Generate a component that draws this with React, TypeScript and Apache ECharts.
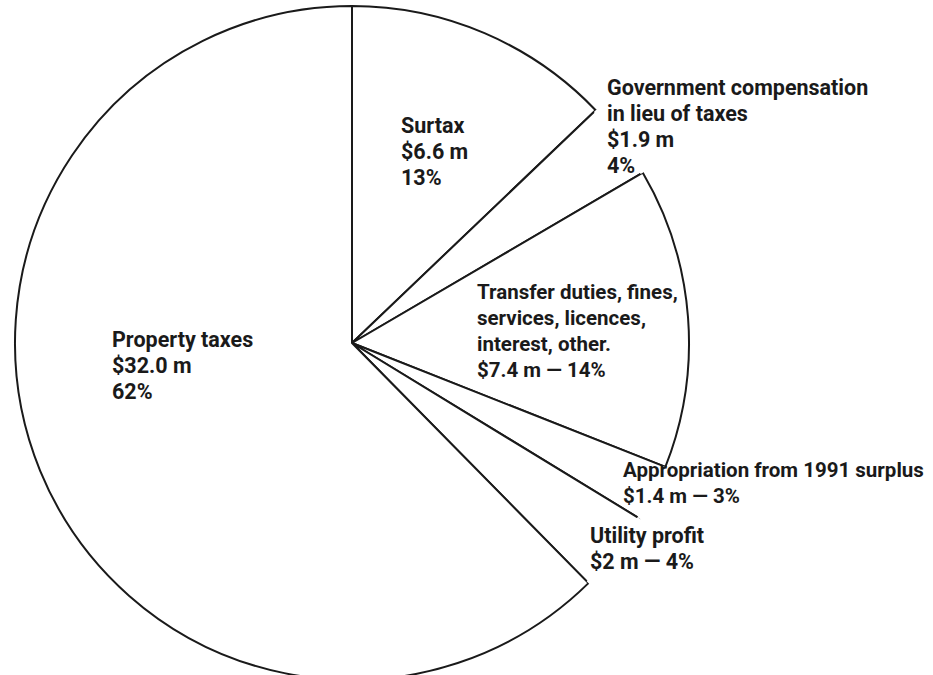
import React, { useEffect, useRef } from "react";
import * as echarts from "echarts";

// ---- data ----
const categories = [
  "Surtax",
  "Government compensation\nin lieu of taxes",
  "Transfer duties, fines,\nservices, licences,\ninterest, other.",
  "Appropriation from 1991 surplus",
  "Utility profit",
  "Property taxes",
];
const amounts = [6.6, 1.9, 7.4, 1.4, 2.0, 32.0];
const amountLabels = ["$6.6 m", "$1.9 m", "$7.4 m", "$1.4 m", "$2 m", "$32.0 m"];
const percentLabels = ["13%", "4%", "14%", "3%", "4%", "62%"];

// ---- layout / style ----
const CENTER = [352, 343];
const RADIUS = 337;
const INK = "#1a1a1a";
const FONT = 'Roboto, "Liberation Sans", sans-serif';
const LABEL_POS = [
  { x: 401, y: 112, inline: false, size: 21.5 },
  { x: 607, y: 74, inline: false, size: 21.5 },
  { x: 477, y: 279, inline: true, size: 20.5 },
  { x: 623, y: 457, inline: true, size: 20.5 },
  { x: 590, y: 522, inline: true, size: 21.5 },
  { x: 112, y: 326, inline: false, size: 21.5 },
];

const total = amounts.reduce((a, b) => a + b, 0);

function labelText(i: number): string {
  const p = LABEL_POS[i];
  return p.inline
    ? `${categories[i]}\n${amountLabels[i]} — ${percentLabels[i]}`
    : `${categories[i]}\n${amountLabels[i]}\n${percentLabels[i]}`;
}

export default function App() {
  const ref = useRef<HTMLDivElement>(null);
  useEffect(() => {
    if (!ref.current) return;
    const chart = echarts.init(ref.current, undefined, { renderer: "svg" });
    const small = (v: number) => v / total < 0.05;
    chart.setOption({
      animation: false,
      backgroundColor: "#ffffff",
      series: [
        {
          type: "pie",
          z: 1,
          center: CENTER,
          radius: [0, RADIUS],
          startAngle: 90,
          clockwise: true,
          silent: true,
          emphasis: { disabled: true },
          label: { show: false },
          labelLine: { show: false },
          itemStyle: { color: "#ffffff", borderColor: INK, borderWidth: 2 },
          data: amounts.map((v, i) => ({ name: categories[i], value: v })),
        },
        {
          type: "pie",
          z: 2,
          center: CENTER,
          radius: [RADIUS - 2.5, RADIUS + 3],
          startAngle: 90,
          clockwise: true,
          silent: true,
          emphasis: { disabled: true },
          avoidLabelOverlap: false,
          data: amounts.map((v, i) => ({
            name: categories[i],
            value: v,
            itemStyle: {
              color: small(v) ? "#ffffff" : "rgba(0,0,0,0)",
              borderWidth: 0,
            },
            label: { fontSize: LABEL_POS[i].size },
          })),
          label: {
            show: true,
            position: "outside",
            formatter: (p: any) => labelText(p.dataIndex),
            color: INK,
            fontFamily: FONT,
            fontWeight: "bold",
            fontSize: 21.5,
            lineHeight: 26,
            align: "left",
          },
          labelLine: { show: false },
          labelLayout: (p: any) => ({
            x: LABEL_POS[p.dataIndex].x,
            y: LABEL_POS[p.dataIndex].y,
            align: "left",
            verticalAlign: "top",
          }),
        },
      ],
    });
    return () => chart.dispose();
  }, []);
  return (
    <div
      ref={ref}
      style={{ position: "absolute", left: 0, top: 0, width: 933, height: 675, background: "#fff" }}
    />
  );
}
